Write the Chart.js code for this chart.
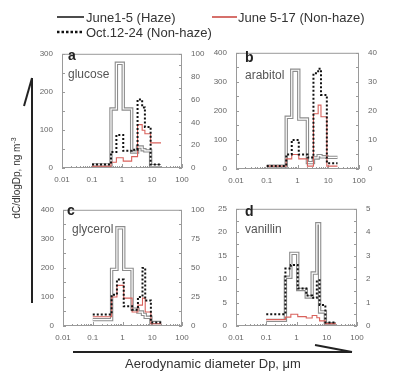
<!DOCTYPE html>
<html>
<head>
<meta charset="utf-8">
<script src="https://cdn.jsdelivr.net/npm/chart.js@4.4.1/dist/chart.umd.min.js"></script>
<style>
  html, body { margin: 0; padding: 0; background: #fff; }
  #page { position: relative; width: 395px; height: 378px; overflow: hidden;
          font-family: "Liberation Sans", Arial, sans-serif; color: #333; }
  canvas.panel { position: absolute; }
  svg.deco { position: absolute; left: 0; top: 0; }
  .txt { position: absolute; white-space: nowrap; line-height: 1; }
  .legend { font-size: 13px; color: #333; }
  .letter { font-size: 14px; font-weight: bold; color: #222; }
  .compound { font-size: 12px; color: #555; }
</style>
</head>
<body>
<div id="page">
  <canvas id="chartA" class="panel"></canvas>
  <canvas id="chartB" class="panel"></canvas>
  <canvas id="chartC" class="panel"></canvas>
  <canvas id="chartD" class="panel"></canvas>

  <svg class="deco" width="395" height="378">
    <!-- legend keys -->
    <line x1="57" y1="17" x2="84" y2="17" stroke="#111" stroke-width="1.5"/>
    <line x1="212" y1="17" x2="237" y2="17" stroke="#c8403a" stroke-width="1.5"/>
    <line x1="57" y1="32" x2="84" y2="32" stroke="#111" stroke-width="2.5" stroke-dasharray="2.5 2"/>
    <!-- y arrow -->
    <line x1="32" y1="78" x2="32" y2="303" stroke="#222" stroke-width="2"/>
    <line x1="32" y1="78" x2="24" y2="106" stroke="#222" stroke-width="2"/>
    <!-- x arrow -->
    <line x1="73" y1="352" x2="352" y2="352" stroke="#222" stroke-width="2"/>
    <line x1="352" y1="352" x2="315" y2="345" stroke="#222" stroke-width="2"/>
  </svg>

  <div id="leg0" class="txt legend" style="left:86px; top:11px;"></div>
  <div id="leg1" class="txt legend" style="left:238px; top:11px;"></div>
  <div id="leg2" class="txt legend" style="left:86px; top:26px;"></div>

  <div class="txt" style="left:16px; top:178px; font-size:10px; color:#333; transform: translate(-50%, -50%) rotate(-90deg);">dC/dlogDp, ng m<sup style="font-size:7px;">-3</sup></div>
  <div class="txt" style="left:213px; top:363px; font-size:13px; color:#333; transform: translate(-50%, -50%);">Aerodynamic diameter Dp, μm</div>
</div>

<script>
// size bins of the impactor (um) and x ticks
const binEdges = [0.1, 0.43, 0.65, 1.1, 2.1, 3.3, 4.7, 5.8, 9.0, 20];
const xTicks = [0.01, 0.1, 1, 10, 100];

const seriesLabels = ['June1-5 (Haze)', 'June 5-17 (Non-haze)', 'Oct.12-24 (Non-haze)'];
const compounds = ['glucose', 'arabitol', 'glycerol', 'vanillin'];
const panelLetters = ['a', 'b', 'c', 'd'];

// haze -> left axis, non-haze periods -> right axis
const glucoseHaze = [8, 155, 275, 155, 42, 55, 48, 45, 6];
const glucoseJune = [1.5, 5, 9, 6, 10, 38, 33, 30, 22];
const glucoseOct  = [3, 14, 29, 15, 16, 60, 53, 36, 3];
const glucoseLeftTicks  = [0, 100, 200, 300];
const glucoseRightTicks = [0, 20, 40, 60, 80, 100];

const arabitolHaze = [10, 178, 340, 172, 22, 38, 46, 42, 40];
const arabitolJune = [1, 3.5, 5, 3.5, 1, 19, 22, 18, 1];
const arabitolOct  = [1, 5, 10, 5, 4, 33, 34.5, 25.5, 2];
const arabitolLeftTicks  = [0, 100, 200, 300, 400];
const arabitolRightTicks = [0, 10, 20, 30, 40];

const glycerolHaze = [22, 195, 338, 195, 58, 48, 40, 30, 12];
const glycerolJune = [8, 25, 35, 24, 12, 18, 24, 12, 2];
const glycerolOct  = [10, 27, 40, 17, 14, 25, 50, 22, 3];
const glycerolLeftTicks  = [0, 100, 200, 300, 400];
const glycerolRightTicks = [0, 25, 50, 75, 100];

const vanillinHaze = [1.2, 10.4, 15.5, 7.8, 6.2, 11.3, 21.8, 3.0, 0.5];
const vanillinJune = [0.27, 0.38, 0.5, 0.4, 0.34, 0.45, 0.35, 0.22, 0.1];
const vanillinOct  = [0.5, 2.45, 2.6, 1.6, 1.3, 1.2, 1.95, 0.9, 0.15];
const vanillinLeftTicks  = [0, 5, 10, 15, 20, 25];
const vanillinRightTicks = [0, 1, 2, 3, 4, 5];

// where each plot box sits on the page
const panels = [
  { id: 'chartA', plotLeft: 62,  plotTop: 48,  w: 120, h: 120, haze: glucoseHaze,  june: glucoseJune,  oct: glucoseOct,  lt: glucoseLeftTicks,  rt: glucoseRightTicks },
  { id: 'chartB', plotLeft: 236, plotTop: 47,  w: 123, h: 122, haze: arabitolHaze, june: arabitolJune, oct: arabitolOct, lt: arabitolLeftTicks, rt: arabitolRightTicks },
  { id: 'chartC', plotLeft: 63,  plotTop: 204, w: 119, h: 122, haze: glycerolHaze, june: glycerolJune, oct: glycerolOct, lt: glycerolLeftTicks, rt: glycerolRightTicks },
  { id: 'chartD', plotLeft: 236, plotTop: 203, w: 121, h: 123, haze: vanillinHaze, june: vanillinJune, oct: vanillinOct, lt: vanillinLeftTicks, rt: vanillinRightTicks }
];
const letterPos = [[68, 48], [245, 50], [67, 203], [245, 204]];
const namePos = [[68, 68], [245, 69], [72, 223], [245, 223]];

const PAD_L = 40, PAD_R = 32, PAD_T = 8, PAD_B = 20;
const tickFont = { family: '"Liberation Sans", Arial, sans-serif', size: 8 };

// one point per bin edge, held flat until the next edge
function stepPoints(values) {
  const pts = values.map((v, i) => ({ x: binEdges[i], y: v }));
  pts.push({ x: binEdges[values.length], y: values[values.length - 1] });
  return pts;
}

function fixedTicks(list) {
  return function(scale) { scale.ticks = list.map(v => ({ value: v })); };
}

// frame plus small inward ticks
const frameTicks = {
  id: 'frameTicks',
  beforeDatasetsDraw(chart) {
    const { ctx, chartArea: a, scales } = chart;
    const lt = chart.options.plugins.frameTicks.lt;
    const rt = chart.options.plugins.frameTicks.rt;
    ctx.save();
    ctx.strokeStyle = '#9a9a9a';
    ctx.lineWidth = 1;
    ctx.strokeRect(a.left + 0.5, a.top + 0.5, a.right - a.left - 1, a.bottom - a.top - 1);
    ctx.beginPath();
    const stepL = lt[1] - lt[0], stepR = rt[1] - rt[0];
    for (let v = lt[0]; v <= lt[lt.length - 1]; v += stepL / 2) {
      const y = Math.round(scales.yL.getPixelForValue(v)) + 0.5;
      ctx.moveTo(a.left, y); ctx.lineTo(a.left + 3, y);
    }
    for (let v = rt[0]; v <= rt[rt.length - 1]; v += stepR / 2) {
      const y = Math.round(scales.yR.getPixelForValue(v)) + 0.5;
      ctx.moveTo(a.right, y); ctx.lineTo(a.right - 3, y);
    }
    for (let d = 0; d < xTicks.length; d++) {
      for (let m = 1; m <= 9; m++) {
        const v = xTicks[d] * m;
        if (v > xTicks[xTicks.length - 1]) break;
        const x = Math.round(scales.x.getPixelForValue(v)) + 0.5;
        ctx.moveTo(x, a.bottom); ctx.lineTo(x, a.bottom - (m === 1 ? 4 : 2));
      }
    }
    ctx.stroke();
    ctx.restore();
  }
};

const noGrid = { display: false, drawTicks: false };

panels.forEach((p, i) => {
  const canvas = document.getElementById(p.id);
  canvas.width = p.w + PAD_L + PAD_R;
  canvas.height = p.h + PAD_T + PAD_B;
  canvas.style.left = (p.plotLeft - PAD_L) + 'px';
  canvas.style.top = (p.plotTop - PAD_T) + 'px';

  new Chart(canvas.getContext('2d'), {
    type: 'line',
    data: {
      datasets: [
        { label: seriesLabels[2], data: stepPoints(p.oct), yAxisID: 'yR', stepped: 'before',
          borderColor: '#111', borderWidth: 2, borderDash: [2, 2], order: 0 },
        { label: seriesLabels[1], data: stepPoints(p.june), yAxisID: 'yR', stepped: 'before',
          borderColor: '#d9625c', borderWidth: 1.1, order: 1 },
        { label: seriesLabels[0] + ' inner', data: stepPoints(p.haze), yAxisID: 'yL', stepped: 'before',
          borderColor: '#ffffff', borderWidth: 1.2, order: 2 },
        { label: seriesLabels[0], data: stepPoints(p.haze), yAxisID: 'yL', stepped: 'before',
          borderColor: '#8d8d8d', borderWidth: 3.4, order: 3 }
      ]
    },
    options: {
      responsive: false,
      animation: false,
      layout: { padding: { top: PAD_T, left: 0, right: 0, bottom: 0 } },
      elements: { point: { radius: 0 }, line: { tension: 0, fill: false } },
      plugins: { legend: { display: false }, tooltip: { enabled: false }, frameTicks: { lt: p.lt, rt: p.rt } },
      scales: {
        x: {
          type: 'logarithmic', min: xTicks[0], max: xTicks[xTicks.length - 1],
          afterBuildTicks: fixedTicks(xTicks),
          afterFit: s => { s.height = PAD_B; },
          grid: noGrid, border: { display: false },
          ticks: { font: tickFont, color: '#666', padding: 7, maxRotation: 0, autoSkip: false,
                   callback: v => String(v) }
        },
        yL: {
          position: 'left', min: p.lt[0], max: p.lt[p.lt.length - 1],
          afterBuildTicks: fixedTicks(p.lt),
          afterFit: s => { s.width = PAD_L; },
          grid: noGrid, border: { display: false },
          ticks: { font: tickFont, color: '#666', padding: 9, callback: v => String(v) }
        },
        yR: {
          position: 'right', min: p.rt[0], max: p.rt[p.rt.length - 1],
          afterBuildTicks: fixedTicks(p.rt),
          afterFit: s => { s.width = PAD_R; },
          grid: noGrid, border: { display: false },
          ticks: { font: tickFont, color: '#666', padding: 9, callback: v => String(v) }
        }
      }
    },
    plugins: [frameTicks]
  });

  const page = document.getElementById('page');
  const letter = document.createElement('div');
  letter.className = 'txt letter';
  letter.style.left = letterPos[i][0] + 'px';
  letter.style.top = letterPos[i][1] + 'px';
  letter.textContent = panelLetters[i];
  page.appendChild(letter);

  const name = document.createElement('div');
  name.className = 'txt compound';
  name.style.left = namePos[i][0] + 'px';
  name.style.top = namePos[i][1] + 'px';
  name.textContent = compounds[i];
  page.appendChild(name);
});

seriesLabels.forEach((s, i) => { document.getElementById('leg' + i).textContent = s; });
</script>
</body>
</html>
